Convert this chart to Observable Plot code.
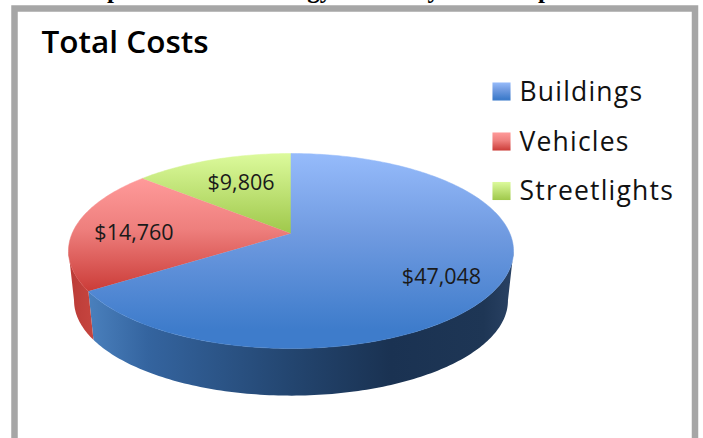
<!DOCTYPE html>
<html>
<head>
<meta charset="utf-8">
<script src="https://cdn.jsdelivr.net/npm/d3@7"></script>
<script src="https://cdn.jsdelivr.net/npm/@observablehq/plot@0.6"></script>
<style>html,body{margin:0;padding:0;background:#fff}svg{display:block}.spaced,.spaced text{letter-spacing:1.2px}</style>
</head>
<body>
<div id="chart"></div>
<script>
const categories = ["Buildings", "Vehicles", "Streetlights"];
const costs = [47048, 14760, 9806];
const headingWords = ["Municipal", "Energy", "by", "Component"];
const chartTitle = "Total Costs";

const total = d3.sum(costs);
const tilt = -0.1795, shrink = 0.975, wallDrop = 50 / 94.36;
const project = (deg, level) => {
  const a = deg * Math.PI / 180, u = Math.sin(a), v = -Math.cos(a), k = 1 + tilt * v;
  return level === "top"
    ? {x: u / k, y: v / k}
    : {x: shrink * u / k, y: wallDrop + shrink * v / k};
};
const arc = (a0, a1, level) => {
  const n = Math.max(2, Math.ceil(Math.abs(a1 - a0))), out = [];
  for (let i = 0; i <= n; ++i) out.push(project(a0 + (a1 - a0) * i / n, level));
  return out;
};
let running = 0;
const spans = costs.map(c => { const s = [running, running + c / total * 360]; running = s[1]; return s; });
const faces = spans.map(([a0, a1]) => [{x: 0, y: 0}, ...arc(a0, a1, "top")]);
const silhouetteR = 100.3, silhouetteL = 259.7;
const wallBlue = [...arc(silhouetteR, spans[0][1], "top"), ...arc(spans[0][1], silhouetteR, "bottom")];
const wallRed = [...arc(spans[0][1], silhouetteL, "top"), ...arc(silhouetteL, spans[0][1], "bottom")];

const grad = (id, stops, horizontal) => `<linearGradient id="${id}" x1="0" y1="0" x2="${horizontal ? 1 : 0}" y2="${horizontal ? 0 : 1}">` +
  stops.map(([o, c]) => `<stop offset="${o}" stop-color="${c}"/>`).join("") + `</linearGradient>`;
const defs = () => {
  const g = d3.create("svg:g");
  g.html("<defs>" +
    grad("gBlue", [[0, "#96bbfb"], [0.42, "#6f9ae0"], [0.9, "#3e7ccb"], [1, "#3e7ccb"]]) +
    grad("gRed", [[0, "#ff9a9a"], [0.45, "#ee7f7d"], [1, "#cb3c38"]]) +
    grad("gGreen", [[0, "#dcfa9c"], [1, "#9fc84b"]]) +
    grad("gWallBlue", [[0, "#4a80bd"], [0.14, "#34649f"], [0.48, "#23456f"], [0.71, "#1a3252"], [0.93, "#1e3655"], [1, "#2a4264"]], true) +
    grad("gWallRed", [[0, "#bb3b37"], [1, "#c6453f"]], true) +
    "</defs>");
  return g.node();
};
const fills = ["url(#gBlue)", "url(#gRed)", "url(#gGreen)"];
const font = "Open Sans";
const anchored = (text, dx, dy, size, extra = {}) => Plot.text([text], {
  text: d => d, frameAnchor: "top-left", lineAnchor: "bottom", dx, dy,
  fontSize: size, fontFamily: font, fill: "#111", textAnchor: "start", ...extra
});
const headingX = [30, 254, 413, 486];
const swatchY = [91, 141, 190.5], legendY = [100, 150, 199];
const labelX = [441, 133.5, 240.5], labelY = [283, 239, 189];

const plot = Plot.plot({
  width: 703, height: 438,
  margin: 0,
  x: {domain: [-1, 1], range: [290.5 - 218.9, 290.5 + 218.9], axis: null},
  y: {domain: [-1, 1], range: [233 - 94.36, 233 + 94.36], axis: null},
  style: {background: "#fff"},
  marks: [
    defs,
    Plot.frame({stroke: "#a6a6a6", strokeWidth: 6.5, insetLeft: 14, insetRight: 8.5, insetTop: 8, insetBottom: -12}),
    ...headingWords.map((w, i) => anchored(w, headingX[i], -3, 25, {fontWeight: "bold", fontFamily: "Liberation Serif", fill: "#000"})),
    anchored(chartTitle, 41, 52, 31.5, {fontWeight: 600, fill: "#000"}),
    Plot.line(wallBlue, {x: "x", y: "y", stroke: "none", fill: "url(#gWallBlue)"}),
    Plot.line(wallRed, {x: "x", y: "y", stroke: "none", fill: "url(#gWallRed)"}),
    ...[2, 1, 0].map(i => Plot.line(faces[i], {x: "x", y: "y", stroke: fills[i], strokeWidth: 0.5, fill: fills[i]})),
    ...costs.map((c, i) => anchored(d3.format("$,")(c), labelX[i], labelY[i], 21.5, {textAnchor: "middle", fill: "#1a1a1a"})),
    ...categories.map((c, i) => Plot.dot([c], {frameAnchor: "top-left", dx: 501, dy: swatchY[i], symbol: "square", r: 10.2, stroke: "none", fill: fills[i]})),
    ...categories.map((c, i) => anchored(c, 519, legendY[i], 26.5, {fill: "#111", className: "spaced"}))
  ]
});
document.getElementById("chart").append(plot);
</script>
</body>
</html>
